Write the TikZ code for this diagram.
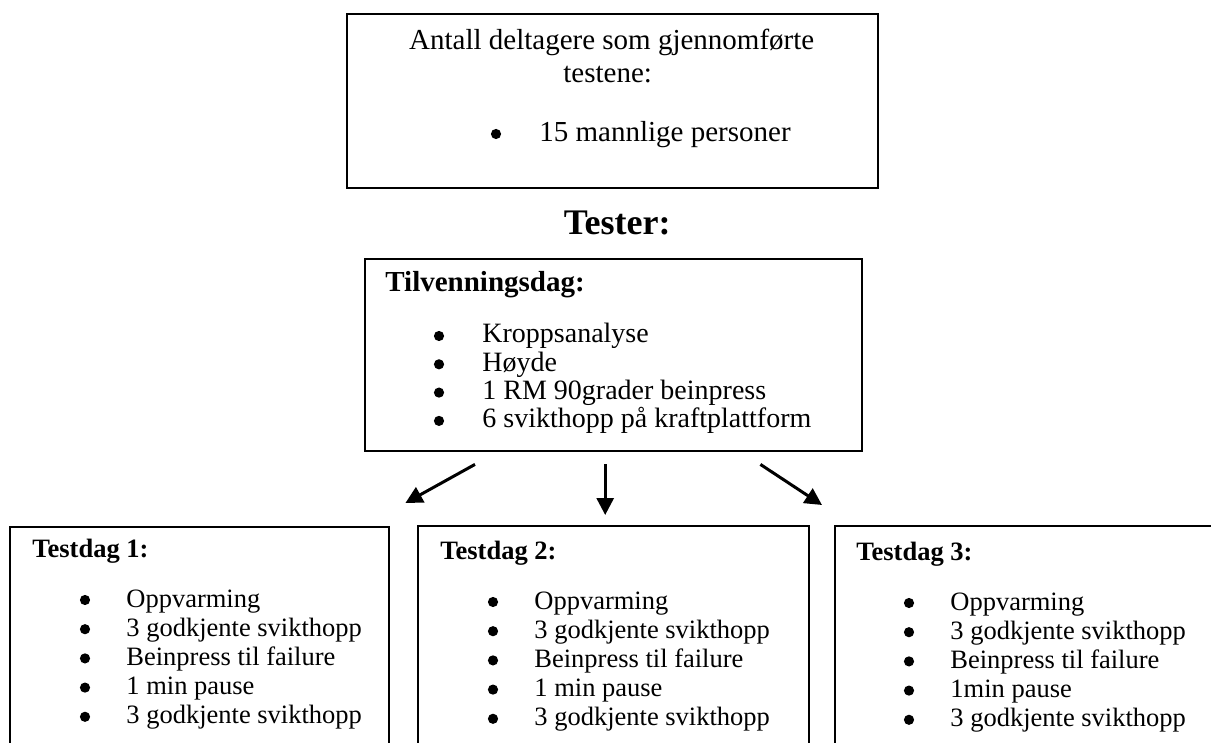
\documentclass[tikz,border=0pt]{standalone}
\usepackage{fontspec}
\setmainfont{Liberation Serif}
\usetikzlibrary{arrows.meta,calc,positioning}

\begin{document}
\begin{tikzpicture}[
    x=0.5pt, y=-0.5pt,
    >={Triangle[length=8.5pt,width=8.5pt]},
    boks/.style   = {draw, line width=1.2pt, inner sep=0pt, anchor=north west},
    midt/.style   = {inner sep=0pt, anchor=base, font=\fontsize{14.5}{17}\selectfont},
    tittel/.style = {inner sep=0pt, anchor=base west, font=\bfseries\fontsize{14.5}{17}\selectfont},
    prikk/.style  = {circle, fill, inner sep=0pt, minimum size=5.1pt},
    punkt/.style  = {inner sep=0pt, anchor=base west},
    pil/.style    = {->, line width=1.5pt}
  ]
  \useasboundingbox (0,0) rectangle (1211,743);
  \clip (0,0) rectangle (1211,743);

  %–––– boxes ––––
  \node[boks, minimum width=265.5pt, minimum height=87pt]  (deltagere) at (346,13) {};
  \node[boks, minimum width=248.5pt, minimum height=96pt]  (tilv) at (364,258) {};
  \node[boks, minimum width=189.5pt, minimum height=130pt] (dag1) at (9,526) {};
  \node[boks, minimum width=195.5pt, minimum height=130pt] (dag2) at (417,525) {};
  \node[boks, minimum width=195.5pt, minimum height=130pt] (dag3) at (834,525) {};

  %–––– participants ––––
  \node[midt] (antall) at ($(deltagere.north)+(-1,37)$) {Antall deltagere som gjennomførte};
  \node[midt] (testene) at ($(deltagere.north)+(-5,70)$) {testene:};
  \node[prikk] (b0) at ($(deltagere.north west)+(150,121)$) {};
  \node[midt, anchor=base west] (menn) at ($(deltagere.north west)+(193,129)$) {15 mannlige personer};

  \node[inner sep=0pt, anchor=base, font=\bfseries\fontsize{18}{20}\selectfont]
      (tester) at ($(deltagere.south)+(4.5,45)$) {Tester:};

  %–––– habituation day ––––
  \node[tittel] (tilvtitle) at ($(tilv.north west)+(21,34)$) {Tilvenningsdag:};
  \foreach \t [count=\i] in {Kroppsanalyse, Høyde, 1 RM 90grader beinpress,
                              6 svikthopp på kraftplattform} {
    \node[prikk] (tb\i) at ($(tilv.north west)+(75,78+28.3*\i-28.3)$) {};
    \node[punkt, font=\fontsize{14}{16}\selectfont] (tp\i)
        at ($(tilv.north west)+(118,85+28.3*\i-28.3)$) {\t};
  }

  %–––– test days ––––
  \foreach \d/\p/\dx/\dy in {1/1 min pause/0/0, 2/1 min pause/0/3, 3/1min pause/-1/4} {
    \node[tittel, font=\bfseries\fontsize{13.25}{15}\selectfont] (title\d)
        at ($(dag\d.north west)+(23+\dx,31+\dy)$) {Testdag \d:};
    \foreach \t [count=\i] in {Oppvarming, 3 godkjente svikthopp,
                                Beinpress til failure, \p, 3 godkjente svikthopp} {
      \node[prikk] (b\d\i) at ($(dag\d.north west)+(76+\dx,74+\dy+29.2*\i-29.2)$) {};
      \node[punkt, font=\fontsize{13.25}{15}\selectfont] (p\d\i)
          at ($(dag\d.north west)+(117+\dx,81+\dy+29.2*\i-29.2)$) {\t};
    }
  }

  %–––– arrows ––––
  \coordinate (t1) at ($(tilv.south west)+(111,12)$);
  \coordinate (h1) at ($(dag1.north east)+(15,-23)$);
  \coordinate (t2) at ($(tilv.south)+(-8.5,12)$);
  \coordinate (h2) at ($(dag2.north)+(-8.5,-10)$);
  \coordinate (t3) at ($(tilv.south east)+(-103,12)$);
  \coordinate (h3) at ($(dag3.north west)+(-12,-20)$);

  \draw[pil] (t1) -- (h1);
  \draw[pil] (t2) -- (h2);
  \draw[pil] (t3) -- (h3);

\end{tikzpicture}
\end{document}
